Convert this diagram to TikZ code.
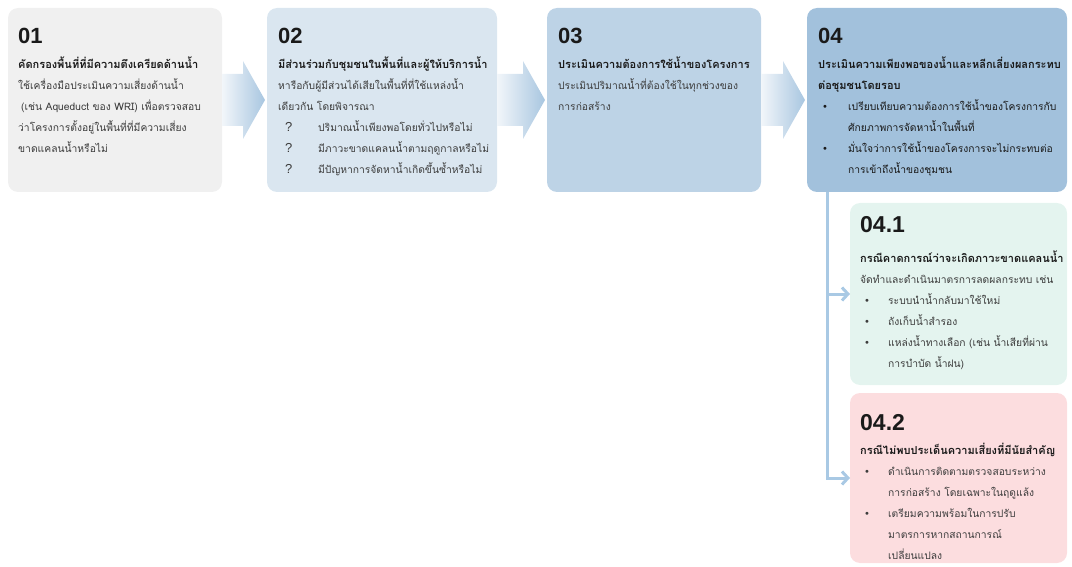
\documentclass[tikz,border=0pt]{standalone}
\usepackage{fontspec}
\setmainfont[Script=Thai]{Loma}
\newfontfamily\numfont{Liberation Sans}
\newfontfamily\symfont{DejaVu Sans}
\usetikzlibrary{arrows.meta,calc}
\definecolor{boxA}{HTML}{F0F0F0}
\definecolor{boxB}{HTML}{DAE6F0}
\definecolor{boxC}{HTML}{BDD3E6}
\definecolor{boxD}{HTML}{A2C1DC}
\definecolor{boxE}{HTML}{E4F4EF}
\definecolor{boxF}{HTML}{FCDDDF}
\definecolor{arrL}{HTML}{F2F6FA}
\definecolor{arrR}{HTML}{A8C6E0}
\definecolor{connc}{HTML}{A9C9E4}
\definecolor{ink}{HTML}{1A1A1A}
\definecolor{bodyc}{HTML}{3C3C3C}
\newcommand{\bul}[1]{\makebox[#1][l]{\hspace{4pt}{\symfont\fontsize{10}{10}\selectfont •}}}
\newcommand{\qm}{\makebox[40pt][l]{\hspace{7pt}{\numfont\fontsize{13}{13}\selectfont ?}}}
\newcommand{\ttl}[1]{{\fontsize{11}{21}\selectfont\bfseries\color{ink}#1}}
\newcommand{\blockarrow}[2]{%
  \shade[left color=arrL,right color=arrR]
    ($(#1.east)+(0,-26)$) -- ($(#2.west)+(-24,-26)$) -- ($(#2.west)+(-24,-39)$)
    -- ($(#2.west)+(-2,0)$) -- ($(#2.west)+(-24,39)$) -- ($(#2.west)+(-24,26)$)
    -- ($(#1.east)+(0,26)$) -- cycle;}
\begin{document}
\begin{tikzpicture}[x=1pt,y=-1pt,
  box/.style={rounded corners=10pt,anchor=north west,inner sep=0pt,outer sep=0pt},
  head/.style={anchor=base west,inner sep=0pt,font=\numfont\bfseries\fontsize{22}{22}\selectfont,text=ink},
  txt/.style={anchor=north west,inner sep=0pt,align=left,font=\fontsize{10.3}{21}\selectfont,text=bodyc},
  conn/.style={draw=connc,line width=3pt},
  tip/.style={-{Straight Barb[length=6pt,width=13pt]}}]
\useasboundingbox (0,0) rectangle (1072,567);
% boxes
\node[box,fill=boxA,minimum width=214pt,minimum height=184pt] (b1) at (8,8) {};
\node[box,fill=boxB,minimum width=230pt,minimum height=184pt] (b2) at (267,8) {};
\node[box,fill=boxC,minimum width=214pt,minimum height=184pt] (b3) at (547,8) {};
\node[box,fill=boxD,minimum width=260pt,minimum height=184pt] (b4) at (807,8) {};
\node[box,fill=boxE,minimum width=217pt,minimum height=182pt] (b41) at (850,203) {};
\node[box,fill=boxF,minimum width=217pt,minimum height=170pt] (b42) at (850,393) {};
% block arrows
\blockarrow{b1}{b2}
\blockarrow{b2}{b3}
\blockarrow{b3}{b4}
% connectors
\coordinate (trunk) at ($(b4.south west)+(20,0)$);
\draw[conn,tip] (trunk) |- (b42.west);
\draw[conn,tip] (trunk|-b41.west) -- (b41.west);
% headings
\node[head] (h1) at (18,44) {01};
\node[head] (h2) at (278,44) {02};
\node[head] (h3) at (558,44) {03};
\node[head] (h4) at (818,44) {04};
\node[head,font=\numfont\bfseries\fontsize{23}{23}\selectfont] (h41) at (860,233) {04.1};
\node[head,font=\numfont\bfseries\fontsize{23}{23}\selectfont] (h42) at (860,430) {04.2};
% texts
\node[txt] (t1) at (18,53.3) {\strut\ttl{คัดกรองพื้นที่ที่มีความตึงเครียดด้านน้ำ}\\
\strut ใช้เครื่องมือประเมินความเสี่ยงด้านน้ำ\\
\strut\hspace{3pt}(เช่น Aqueduct ของ WRI) เพื่อตรวจสอบ\\
\strut ว่าโครงการตั้งอยู่ในพื้นที่ที่มีความเสี่ยง\\
\strut ขาดแคลนน้ำหรือไม่};
\node[txt] (t2) at (278,53.3) {\strut\ttl{มีส่วนร่วมกับชุมชนในพื้นที่และผู้ให้บริการน้ำ}\\
\strut หารือกับผู้มีส่วนได้เสียในพื้นที่ที่ใช้แหล่งน้ำ\\
\strut เดียวกัน โดยพิจารณา\\
\strut\qm ปริมาณน้ำเพียงพอโดยทั่วไปหรือไม่\\
\strut\qm มีภาวะขาดแคลนน้ำตามฤดูกาลหรือไม่\\
\strut\qm มีปัญหาการจัดหาน้ำเกิดขึ้นซ้ำหรือไม่};
\node[txt] (t3) at (558,53.3) {\strut\ttl{ประเมินความต้องการใช้น้ำของโครงการ}\\
\strut ประเมินปริมาณน้ำที่ต้องใช้ในทุกช่วงของ\\
\strut การก่อสร้าง};
\node[txt,text=ink] (t4) at (818,53.3) {\strut\ttl{ประเมินความเพียงพอของน้ำและหลีกเลี่ยงผลกระทบ}\\
\strut\ttl{ต่อชุมชนโดยรอบ}\\
\strut\bul{30pt}เปรียบเทียบความต้องการใช้น้ำของโครงการกับ\\
\strut\hspace*{30pt}ศักยภาพการจัดหาน้ำในพื้นที่\\
\strut\bul{30pt}มั่นใจว่าการใช้น้ำของโครงการจะไม่กระทบต่อ\\
\strut\hspace*{30pt}การเข้าถึงน้ำของชุมชน};
\node[txt] (t41) at (860,247.3) {\strut\ttl{กรณีคาดการณ์ว่าจะเกิดภาวะขาดแคลนน้ำ}\\
\strut จัดทำและดำเนินมาตรการลดผลกระทบ เช่น\\
\strut\bul{28pt}ระบบนำน้ำกลับมาใช้ใหม่\\
\strut\bul{28pt}ถังเก็บน้ำสำรอง\\
\strut\bul{28pt}แหล่งน้ำทางเลือก (เช่น น้ำเสียที่ผ่าน\\
\strut\hspace*{28pt}การบำบัด น้ำฝน)};
\node[txt] (t42) at (860,439.3) {\strut\ttl{กรณีไม่พบประเด็นความเสี่ยงที่มีนัยสำคัญ}\\
\strut\bul{28pt}ดำเนินการติดตามตรวจสอบระหว่าง\\
\strut\hspace*{28pt}การก่อสร้าง โดยเฉพาะในฤดูแล้ง\\
\strut\bul{28pt}เตรียมความพร้อมในการปรับ\\
\strut\hspace*{28pt}มาตรการหากสถานการณ์\\
\strut\hspace*{28pt}เปลี่ยนแปลง};
\end{tikzpicture}
\end{document}
